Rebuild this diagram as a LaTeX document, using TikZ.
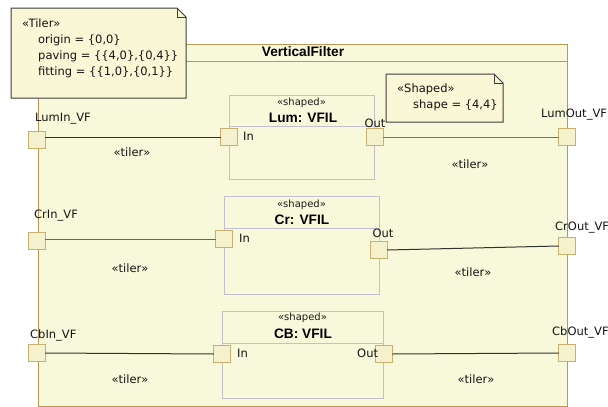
\documentclass[tikz,border=0pt]{standalone}
\usepackage{fontspec}
\setmainfont{DejaVu Sans}
\newfontfamily\headfont{Liberation Sans}
\definecolor{bgc}{RGB}{248,248,218}
\definecolor{framec}{RGB}{186,152,84}
\definecolor{portfill}{RGB}{245,241,204}
\definecolor{portc}{RGB}{200,176,112}
\definecolor{partc}{RGB}{196,190,206}
\definecolor{linec}{RGB}{50,50,50}
\definecolor{notefill}{RGB}{249,247,214}
\definecolor{notec}{RGB}{60,60,60}
\tikzset{
  frame/.style={draw=framec, fill=bgc, line width=1pt, inner sep=0, outer sep=0},
  partbox/.style={draw=partc, line width=1pt, inner sep=0, outer sep=0, anchor=north west},
  port/.style={draw=portc, fill=portfill, line width=1pt, minimum size=16.5pt, inner sep=0, outer sep=0},
  conn/.style={draw=linec, line width=1pt},
  notebox/.style={inner sep=0, outer sep=0, anchor=north west},
  noteline/.style={draw=notec, fill=notefill, line width=1pt, line join=miter},
  lbl/.style={font=\fontsize{11.5}{16}\selectfont, inner sep=0, anchor=base west, text=black!92},
  clbl/.style={lbl, anchor=base},
  stereo/.style={font=\fontsize{10}{12}\selectfont, inner sep=0, anchor=base, text=black!90},
  title/.style={font=\headfont\bfseries\fontsize{13.7}{16}\selectfont, inner sep=0, anchor=base},
}
\begin{document}
\begin{tikzpicture}[x=1pt, y=-1pt]
\useasboundingbox (0,0) rectangle (608,407);

% enclosing block with its name compartment
\node[frame, anchor=north west, minimum width=529pt, minimum height=362pt] (vf) at (38,44) {};
\coordinate (hdr) at (0,61);
\draw[framec, line width=1pt] (vf.west |- hdr) -- (vf.east |- hdr);
\node[title] (vfName) at (303,56) {VerticalFilter};

% the three filter parts
\node[partbox, minimum width=145pt, minimum height=84pt] (lum) at (229,95) {};
\coordinate (lumDiv) at (0,126);
\draw[partc, line width=1pt] (lum.west |- lumDiv) -- (lum.east |- lumDiv);
\node[stereo] (lumSt) at (301.5,105) {«shaped»};
\node[title] (lumName) at (303,122) {Lum: VFIL};

\node[partbox, minimum width=155pt, minimum height=98pt] (cr) at (224,196) {};
\coordinate (crDiv) at (0,228);
\draw[partc, line width=1pt] (cr.west |- crDiv) -- (cr.east |- crDiv);
\node[stereo] (crSt) at (301.5,207) {«shaped»};
\node[title] (crName) at (302,224) {Cr: VFIL};

\node[partbox, minimum width=161pt, minimum height=87pt] (cb) at (222,311) {};
\coordinate (cbDiv) at (0,343);
\draw[partc, line width=1pt] (cb.west |- cbDiv) -- (cb.east |- cbDiv);
\node[stereo] (cbSt) at (302.5,320) {«shaped»};
\node[title] (cbName) at (303,338) {CB: VFIL};

% ports
\node[port] (lumInVF) at (37,140) {};
\node[port] (lumIn) at (229,137) {};
\node[port] (lumOut) at (375,137) {};
\node[port] (lumOutVF) at (567,137) {};

\node[port] (crInVF) at (37,241) {};
\node[port] (crIn) at (224,239) {};
\node[port] (crOut) at (379,250) {};
\node[port] (crOutVF) at (567,246) {};

\node[port] (cbInVF) at (37,353) {};
\node[port] (cbIn) at (222,354) {};
\node[port] (cbOut) at (384,354) {};
\node[port] (cbOutVF) at (567,353) {};

% connectors
\draw[conn] (lumInVF.east |- lumIn.west) -- (lumIn.west);
\draw[conn, draw=black!55] (lumOut.east) -- (lumOutVF.west);
\draw[conn, draw=black!60] (crInVF.east |- crIn.west) -- (crIn.west);
\draw[conn] (crOut.east) -- (crOutVF.west);
\draw[conn] (cbInVF.east) -- (cbIn.west);
\draw[conn] (cbOut.east) -- (cbOutVF.west);

% port names
\node[lbl] (lumInVFl) at (35,121) {LumIn\_VF};
\node[lbl] (lumInl) at (243,140) {In};
\node[lbl, anchor=base] (lumOutl) at (375,127) {Out};
\node[lbl] (lumOutVFl) at (541,117) {LumOut\_VF};

\node[lbl] (crInVFl) at (34,218) {CrIn\_VF};
\node[lbl] (crInl) at (239,242) {In};
\node[lbl, anchor=base] (crOutl) at (383,237) {Out};
\node[lbl] (crOutVFl) at (555,230) {CrOut\_VF};

\node[lbl] (cbInVFl) at (30,338) {CbIn\_VF};
\node[lbl] (cbInl) at (237,357) {In};
\node[lbl] (cbOutl) at (357,357) {Out};
\node[lbl] (cbOutVFl) at (552,335) {CbOut\_VF};

% connector stereotypes
\node[clbl] (t1) at (132,156) {«tiler»};
\node[clbl] (t2) at (470,168) {«tiler»};
\node[clbl] (t3) at (130,272) {«tiler»};
\node[clbl] (t4) at (473,276) {«tiler»};
\node[clbl] (t5) at (130,383) {«tiler»};
\node[clbl] (t6) at (476,383) {«tiler»};

% comment notes with a folded corner
\node[notebox, minimum width=175pt, minimum height=90pt] (tilerNote) at (11,8) {};
\draw[noteline] (tilerNote.south west) -- (tilerNote.north west)
  -- ([xshift=-9pt]tilerNote.north east) -- ([yshift=-9pt]tilerNote.north east)
  -- (tilerNote.south east) -- cycle;
\draw[notec, line width=0.8pt] ([xshift=-9pt]tilerNote.north east) -- ([xshift=-9pt,yshift=-9pt]tilerNote.north east) -- ([yshift=-9pt]tilerNote.north east);
\node[lbl] (tilerSt) at (22,27) {«Tiler»};
\node[lbl] (tilerA) at (38,43) {origin = \{0,0\}};
\node[lbl] (tilerB) at (38,59) {paving = \{\{4,0\},\{0,4\}\}};
\node[lbl] (tilerC) at (38,75) {fitting = \{\{1,0\},\{0,1\}\}};

\node[notebox, minimum width=117pt, minimum height=48pt] (shapedNote) at (386,74) {};
\draw[noteline] (shapedNote.south west) -- (shapedNote.north west)
  -- ([xshift=-9pt]shapedNote.north east) -- ([yshift=-9pt]shapedNote.north east)
  -- (shapedNote.south east) -- cycle;
\draw[notec, line width=0.8pt] ([xshift=-9pt]shapedNote.north east) -- ([xshift=-9pt,yshift=-9pt]shapedNote.north east) -- ([yshift=-9pt]shapedNote.north east);
\node[lbl] (shapedSt) at (397,92) {«Shaped»};
\node[lbl] (shapedA) at (413,108) {shape = \{4,4\}};
\end{tikzpicture}
\end{document}
